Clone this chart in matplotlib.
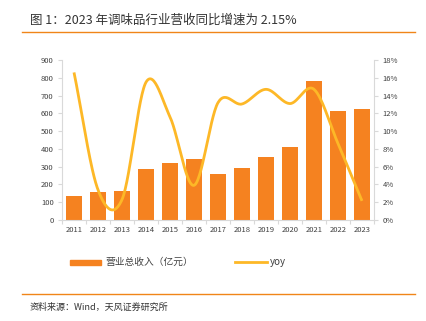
import numpy as np
import matplotlib
matplotlib.use("Agg")
import matplotlib.pyplot as plt
from matplotlib.lines import Line2D
from matplotlib.patches import Rectangle

plt.rcParams['font.family'] = ['Noto Sans CJK SC', 'DejaVu Sans']

years = ['2011', '2012', '2013', '2014', '2015', '2016', '2017',
         '2018', '2019', '2020', '2021', '2022', '2023']
revenue = [136, 158, 164, 289, 321, 343, 260, 294, 356, 411, 782, 615, 626]
yoy = [16.6, 3.4, 2.3, 15.5, 11.6, 3.9, 13.2, 13.05, 14.7, 13.1, 14.7, 8.6, 2.15]

BAR = '#F58220'
LINE = '#FDB827'
GRID = '#D9D9D9'
TXT = '#404040'


def catmull_rom(x, y, n=30):
    """Smooth curve through the points (Excel-style smoothed line)."""
    x = np.asarray(x, float)
    y = np.asarray(y, float)
    px = np.concatenate([[2 * x[0] - x[1]], x, [2 * x[-1] - x[-2]]])
    py = np.concatenate([[2 * y[0] - y[1]], y, [2 * y[-1] - y[-2]]])
    xs, ys = [], []
    for i in range(1, len(px) - 2):
        t = np.linspace(0, 1, n, endpoint=False)
        for p, out in ((px, xs), (py, ys)):
            p0, p1, p2, p3 = p[i - 1], p[i], p[i + 1], p[i + 2]
            out.extend(0.5 * ((2 * p1) + (-p0 + p2) * t
                              + (2 * p0 - 5 * p1 + 4 * p2 - p3) * t ** 2
                              + (-p0 + 3 * p1 - 3 * p2 + p3) * t ** 3))
    xs.append(x[-1])
    ys.append(y[-1])
    return np.array(xs), np.array(ys)


fig = plt.figure(figsize=(4.27, 3.21), dpi=100)
W, H = 427, 321
ax = fig.add_axes([62 / W, 1 - 220 / H, (374 - 62) / W, 160 / H])
ax2 = ax.twinx()

x = np.arange(len(years))
ax.bar(x, revenue, width=0.64, color=BAR, zorder=2)
ax.set_xlim(-0.5, len(years) - 0.5)
ax.set_ylim(0, 900)
ax.set_yticks(range(0, 901, 100))
ax.set_xticks(x)
ax.set_xticklabels(years)
ax.set_xticks(np.arange(-0.5, len(years), 1), minor=True)

sx, sy = catmull_rom(x, yoy)
ax2.plot(sx, sy, color=LINE, lw=2.0, solid_capstyle='butt', zorder=3)
ax2.set_ylim(0, 18)
ax2.set_yticks(range(0, 19, 2))
ax2.set_yticklabels([f'{v}%' for v in range(0, 19, 2)])

for a in (ax, ax2):
    a.spines['top'].set_visible(False)
    for s in ('left', 'right', 'bottom'):
        a.spines[s].set_color(GRID)
        a.spines[s].set_linewidth(0.8)
    a.tick_params(axis='y', labelsize=5.5, labelcolor=TXT, color=GRID,
                  length=3, width=0.8, pad=3)
ax.spines['right'].set_visible(False)
ax2.spines['left'].set_visible(False)
ax2.spines['bottom'].set_visible(False)
ax.tick_params(axis='x', which='major', length=0, labelsize=5.5,
               labelcolor=TXT, pad=4)
ax.tick_params(axis='x', which='minor', length=3, color=GRID, width=0.8)

# Title and rules
fig.text(30 / W, 1 - 20 / H, '图 1：2023 年调味品行业营收同比增速为 2.15%',
         fontsize=9, fontweight='medium', color='#333333', va='center')
fig.add_artist(Line2D([22 / W, 415 / W], [1 - 32 / H] * 2,
                      color='#F08519', lw=1.0))
fig.add_artist(Line2D([22 / W, 415 / W], [1 - 294 / H] * 2,
                      color='#F08519', lw=1.0))
fig.text(30 / W, 1 - 307 / H, '资料来源：Wind，天风证券研究所',
         fontsize=6.5, color='#333333', va='center')

# Legend
ly = 1 - 262 / H
fig.add_artist(Rectangle((70 / W, ly - 2.5 / H), 31 / W, 5 / H,
                         color=BAR, transform=fig.transFigure))
fig.text(105 / W, ly, '营业总收入（亿元）', fontsize=7, color=TXT,
         va='center')
fig.add_artist(Line2D([235 / W, 267 / W], [ly, ly], color=LINE, lw=2.0))
fig.text(270 / W, ly, 'yoy', fontsize=7, color=TXT, va='center')

fig.savefig('out.png', dpi=100)
